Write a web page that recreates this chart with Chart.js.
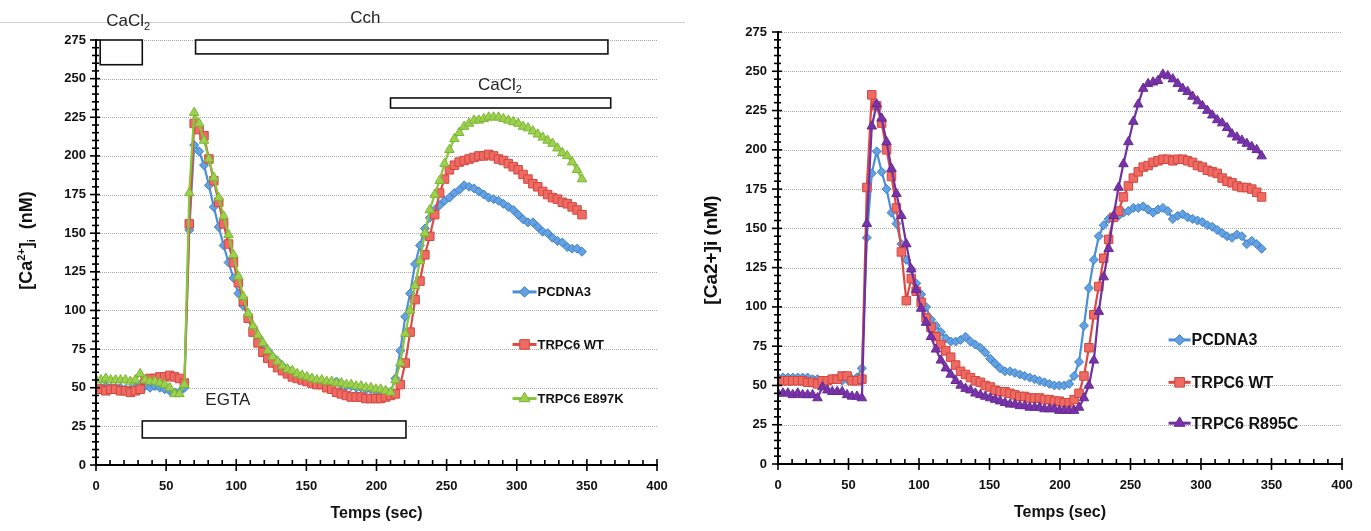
<!DOCTYPE html>
<html>
<head>
<meta charset="utf-8">
<script src="https://cdn.jsdelivr.net/npm/chart.js@4.4.1/dist/chart.umd.min.js"></script>
<style>
  html, body { margin: 0; padding: 0; background: #fff; }
  #wrap { position: relative; width: 1371px; height: 531px; overflow: hidden; background: #fff; }
  .panel { position: absolute; top: 0; height: 531px; }
  #left { left: 0; width: 690px; }
  #right { left: 690px; width: 681px; }
  canvas { display: block; }
</style>
</head>
<body>
<div id="wrap">
  <div class="panel" id="left"><canvas id="chartLeft" width="690" height="531"></canvas></div>
  <div class="panel" id="right"><canvas id="chartRight" width="681" height="531"></canvas></div>
</div>
<script>
// Sampling times (s), shared by both recordings
const timeSec = [
  0, 3.5, 7, 10.5, 14, 17.5, 21, 24.5, 28, 31.5,
  35, 38.5, 42, 45.5, 49, 52.5, 56, 59.5, 63, 66.5,
  70, 73.5, 77, 80.5, 84, 87.5, 91, 94.5, 98, 101.5,
  105, 108.5, 112, 115.5, 119, 122.5, 126, 129.5, 133, 136.5,
  140, 143.5, 147, 150.5, 154, 157.5, 161, 164.5, 168, 171.5,
  175, 178.5, 182, 185.5, 189, 192.5, 196, 199.5, 203, 206.5,
  210, 213.5, 217, 220.5, 224, 227.5, 231, 234.5, 238, 241.5,
  245, 248.5, 252, 255.5, 259, 262.5, 266, 269.5, 273, 276.5,
  280, 283.5, 287, 290.5, 294, 297.5, 301, 304.5, 308, 311.5,
  315, 318.5, 322, 325.5, 329, 332.5, 336, 339.5, 343, 346.5
];

// Left panel: [Ca2+]i (nM)
const leftPcdna3 = [
  50, 50, 51, 50, 50, 50, 49, 49, 50, 52,
  51, 50, 51, 50, 49, 48, 47, 47, 50, 152,
  207, 203, 194, 181, 167, 154, 142, 131, 121, 111,
  103, 96, 89, 83, 78, 74, 70, 67, 64, 62,
  60, 58, 57, 56, 55, 54, 54, 53, 53, 54,
  52, 51, 51, 50, 50, 49, 49, 48, 48, 48,
  47, 56, 74, 96, 111, 130, 142, 153, 160, 165,
  168, 171, 173, 176, 178, 181, 180, 179, 177, 175,
  173, 172, 171, 169, 167, 165, 162, 159, 157, 157,
  154, 151, 150, 147, 145, 144, 141, 140, 140, 138
];
const leftTrpc6Wt = [
  49, 49, 48, 49, 49, 48, 48, 47, 48, 49,
  55, 56, 56, 57, 57, 58, 57, 56, 53, 156,
  221, 217, 213, 198, 184, 170, 156, 143, 131, 118,
  106, 95, 86, 79, 73, 69, 66, 63, 61, 59,
  57, 56, 55, 54, 53, 52, 52, 50, 49, 47,
  46, 45, 44, 44, 44, 43, 43, 43, 43, 44,
  45, 46, 52, 66, 86, 107, 119, 136, 148, 162,
  176, 185, 191, 194, 196, 197, 198, 199, 200, 200,
  201, 200, 198, 197, 195, 193, 191, 188, 185, 182,
  180, 177, 175, 173, 172, 170, 169, 167, 165, 162
];
const leftTrpc6E897k = [
  55, 55, 56, 55, 55, 55, 55, 54, 55, 59,
  55, 54, 54, 53, 52, 50, 46, 46, 52, 176,
  228, 221, 210, 198, 186, 173, 161, 149, 136, 122,
  109, 98, 90, 84, 79, 74, 70, 67, 64, 62,
  61, 59, 58, 57, 56, 55, 55, 54, 54, 53,
  53, 52, 52, 51, 51, 50, 50, 49, 49, 48,
  47, 55, 66, 85, 100, 116, 132, 150, 165, 175,
  184, 195, 204, 211, 215, 219, 221, 223, 223, 224,
  225, 225, 225, 224, 223, 222, 221, 219, 218, 216,
  214, 212, 210, 208, 205, 202, 200, 196, 191, 185
];

// Right panel: [Ca2+]i (nM)
const rightPcdna3 = [
  55, 55, 55, 55, 55, 55, 55, 54, 54, 53,
  53, 54, 54, 53, 54, 54, 55, 61, 144, 185,
  199, 186, 175, 160, 153, 140, 130, 124, 115, 108,
  100, 92, 88, 84, 80, 78, 78, 79, 81, 78,
  76, 74, 71, 67, 64, 61, 59, 59, 58, 57,
  56, 55, 54, 53, 52, 51, 50, 50, 50, 51,
  56, 65, 88, 112, 130, 145, 152, 156, 157, 158,
  160, 161, 163, 163, 164, 162, 160, 162, 163, 161,
  156, 158, 159, 157, 156, 155, 154, 152, 151, 149,
  147, 145, 144, 146, 145, 140, 142, 140, 137
];
const rightTrpc6Wt = [
  53, 53, 53, 53, 53, 53, 52, 52, 51, 53,
  53, 54, 54, 56, 56, 53, 53, 54, 176, 235,
  228, 217, 200, 183, 163, 135, 104, 118, 110, 103,
  93, 87, 81, 76, 72, 68, 63, 59, 57, 55,
  53, 52, 50, 49, 47, 46, 46, 45, 44, 43,
  43, 42, 42, 42, 41, 41, 40, 40, 39, 39,
  41, 45, 56, 74, 95, 113, 131, 143, 157, 161,
  170, 177, 182, 186, 189, 190, 192, 193, 194, 194,
  193, 194, 194, 193, 192, 190, 189, 187, 186, 185,
  182, 180, 179, 177, 176, 176, 175, 173, 170
];
const rightTrpc6R895c = [
  45, 45, 45, 44, 45, 44, 44, 44, 42, 49,
  47, 46, 46, 46, 44, 43, 43, 42, 153, 215,
  229, 220, 205, 188, 172, 158, 140, 124, 111, 99,
  90, 81, 73, 66, 61, 57, 53, 50, 48, 47,
  45, 44, 43, 42, 41, 40, 39, 38, 38, 37,
  37, 36, 36, 36, 35, 35, 35, 34, 34, 34,
  34, 36, 42, 50, 66, 97, 119, 137, 158, 176,
  191, 205, 218, 229, 239, 242, 243, 244, 248, 247,
  245, 242, 239, 237, 234, 231, 228, 225, 222, 219,
  217, 214, 210, 208, 206, 204, 202, 200, 196
];

const yTicks = [0, 25, 50, 75, 100, 125, 150, 175, 200, 225, 250, 275];
const xTicks = [0, 50, 100, 150, 200, 250, 300, 350, 400];

// Treatment periods on the left panel (time in s, concentration units for the box edges)
const barLabels = ['CaCl2', 'Cch', 'CaCl2', 'EGTA'];
const barStart  = [3, 71, 210, 33];
const barEnd    = [33, 365, 367, 221];
const barTop    = [275, 275, 237.5, 28.5];
const barBottom = [259, 266, 231, 17.5];
const barLabelT = [23, 192, 288, 94];
const barLabelV = [287, 289, 246, 42];

const FONT = "'Liberation Sans', Arial, sans-serif";

const SERIES_STYLE = {
  blue:   { line: '#4a8fd8', fill: '#63a2e2', edge: '#3f7fc8', shape: 'rectRot',  r: 4.5 },
  red:    { line: '#dc4a43', fill: '#ee6a62', edge: '#d24840', shape: 'rect',     r: 6 },
  green:  { line: '#88c43c', fill: '#9dd04c', edge: '#7bb634', shape: 'triangle', r: 5.5 },
  purple: { line: '#7030a0', fill: '#7833aa', edge: '#662a94', shape: 'triangle', r: 5.5 }
};

function series(label, values, style, order) {
  const s = SERIES_STYLE[style];
  return {
    label,
    data: values.map((v, i) => ({ x: timeSec[i], y: v })),
    borderColor: s.line,
    backgroundColor: s.fill,
    borderWidth: 2.2,
    pointStyle: s.shape,
    pointRadius: s.r,
    pointBackgroundColor: s.fill,
    pointBorderColor: s.edge,
    pointBorderWidth: 1,
    tension: 0,
    fill: false,
    order
  };
}

function strokeLine(ctx, x1, y1, x2, y2) {
  ctx.beginPath(); ctx.moveTo(x1, y1); ctx.lineTo(x2, y2); ctx.stroke();
}

// Text with an optional trailing subscript, centred on (cx, cy)
function subscriptText(ctx, main, sub, cx, cy, size) {
  ctx.font = `${size}px ${FONT}`;
  const w1 = ctx.measureText(main).width;
  ctx.font = `${Math.round(size * 0.62)}px ${FONT}`;
  const w2 = sub ? ctx.measureText(sub).width : 0;
  const x0 = cx - (w1 + w2) / 2;
  ctx.textBaseline = 'middle';
  ctx.textAlign = 'left';
  ctx.font = `${size}px ${FONT}`;
  ctx.fillText(main, x0, cy);
  if (sub) {
    ctx.font = `${Math.round(size * 0.62)}px ${FONT}`;
    ctx.fillText(sub, x0 + w1, cy + size * 0.32);
  }
}

// Rotated y-axis title built from runs: [text, sizeScale, baselineShift]
function rotatedTitle(ctx, runs, cx, cy, size) {
  ctx.save();
  ctx.translate(cx, cy);
  ctx.rotate(-Math.PI / 2);
  ctx.textBaseline = 'middle';
  ctx.textAlign = 'left';
  let total = 0;
  runs.forEach(([t, k]) => { ctx.font = `bold ${Math.round(size * k)}px ${FONT}`; total += ctx.measureText(t).width; });
  let x = -total / 2;
  runs.forEach(([t, k, dy]) => {
    ctx.font = `bold ${Math.round(size * k)}px ${FONT}`;
    ctx.fillText(t, x, dy * size);
    x += ctx.measureText(t).width;
  });
  ctx.restore();
}

const decorPlugin = {
  id: 'decor',
  beforeDatasetsDraw(chart, args, o) {
    const { ctx, chartArea: a, scales: { x, y } } = chart;
    ctx.save();
    // dotted horizontal gridlines
    ctx.strokeStyle = '#a9a9a9';
    ctx.lineWidth = 1;
    ctx.setLineDash([1, 1]);
    y.ticks.forEach(t => {
      if (t.value === 0) return;
      const py = Math.round(y.getPixelForValue(t.value)) + 0.5;
      strokeLine(ctx, a.left, py, a.right, py);
    });
    ctx.setLineDash([]);
    // treatment bars
    if (o.bars) {
      ctx.lineWidth = 1.6;
      ctx.strokeStyle = '#111';
      ctx.fillStyle = '#fff';
      o.bars.start.forEach((s, i) => {
        const x1 = x.getPixelForValue(s), x2 = x.getPixelForValue(o.bars.end[i]);
        const y1 = y.getPixelForValue(o.bars.top[i]), y2 = y.getPixelForValue(o.bars.bottom[i]);
        ctx.fillRect(x1, y1, x2 - x1, y2 - y1);
        ctx.strokeRect(x1, y1, x2 - x1, y2 - y1);
      });
    }
    ctx.restore();
  },
  afterDatasetsDraw(chart, args, o) {
    const { ctx, chartArea: a, scales: { x, y } } = chart;
    ctx.save();
    // axes
    ctx.strokeStyle = '#000';
    ctx.lineWidth = 2;
    strokeLine(ctx, a.left, a.top - 1, a.left, a.bottom + 1);
    strokeLine(ctx, a.left - 1, a.bottom, a.right + 1, a.bottom);
    // tick marks
    ctx.lineWidth = 1.6;
    for (let v = y.min; v <= y.max + 0.001; v += o.minorY) {
      const py = y.getPixelForValue(v);
      const major = Math.abs(v % 25) < 0.001;
      strokeLine(ctx, a.left - (major ? 6 : 4), py, a.left + (major ? 4 : 3), py);
    }
    for (let v = x.min; v <= x.max + 0.001; v += o.minorX) {
      const px = x.getPixelForValue(v);
      const major = Math.abs(v % 50) < 0.001;
      strokeLine(ctx, px, a.bottom - (major ? 6 : 5), px, a.bottom + (major ? 6 : 0));
    }
    // x-axis title
    ctx.fillStyle = '#111';
    ctx.font = `bold ${o.xTitleSize}px ${FONT}`;
    ctx.textAlign = 'center';
    ctx.textBaseline = 'middle';
    ctx.fillText('Temps (sec)', (a.left + a.right) / 2, o.xTitleY);
    // y-axis title
    rotatedTitle(ctx, o.yTitle, o.yTitleX, (a.top + a.bottom) / 2 + o.yTitleDy, o.yTitleSize);
    // bar labels
    if (o.bars) {
      if (o.topRule) {
        ctx.strokeStyle = '#cfcfcf';
        ctx.lineWidth = 1;
        strokeLine(ctx, 0, o.topRule.y + 0.5, o.topRule.w, o.topRule.y + 0.5);
      }
      ctx.fillStyle = '#222';
      o.bars.labels.forEach((lab, i) => {
        const m = lab.match(/^(.*?)(\d*)$/);
        subscriptText(ctx, m[1], m[2], x.getPixelForValue(o.bars.labelT[i]), y.getPixelForValue(o.bars.labelV[i]), o.barFont);
      });
    }
    // legend
    const L = o.legend;
    const lx = x.getPixelForValue(L.t);
    chart.data.datasets.forEach((ds, i) => {
      const py = y.getPixelForValue(L.rows[i]);
      ctx.strokeStyle = ds.borderColor;
      ctx.lineWidth = 3;
      strokeLine(ctx, lx, py, lx + L.len, py);
      ctx.fillStyle = ds.pointBackgroundColor;
      ctx.strokeStyle = ds.pointBorderColor;
      ctx.lineWidth = 1;
      Chart.helpers.drawPoint(ctx, { pointStyle: ds.pointStyle, radius: ds.pointRadius + 0.8, borderWidth: 1, rotation: 0 }, lx + L.len / 2, py);
      ctx.fillStyle = '#111';
      ctx.font = `bold ${L.size}px ${FONT}`;
      ctx.textAlign = 'left';
      ctx.textBaseline = 'middle';
      ctx.fillText(ds.label, lx + L.len + 1, py + 1);
    });
    ctx.restore();
  }
};

function makeChart(id, cfg) {
  const tickFont = { family: FONT, size: 13, weight: 'bold' };
  return new Chart(document.getElementById(id), {
    type: 'line',
    data: { datasets: cfg.datasets },
    options: {
      responsive: false,
      animation: false,
      devicePixelRatio: 1,
      layout: { padding: cfg.padding },
      plugins: { legend: { display: false }, tooltip: { enabled: false }, decor: cfg.decor },
      scales: {
        x: {
          type: 'linear', min: 0, max: 400,
          afterFit: s => { s.height = cfg.xHeight; },
          afterBuildTicks: s => { s.ticks = xTicks.map(v => ({ value: v })); },
          ticks: { padding: cfg.xPad, color: '#111', font: tickFont, maxRotation: 0 },
          grid: { display: false, drawTicks: false },
          border: { display: false }
        },
        y: {
          type: 'linear', min: 0, max: 275,
          afterFit: s => { s.width = cfg.yWidth; },
          afterBuildTicks: s => { s.ticks = yTicks.map(v => ({ value: v })); },
          ticks: { padding: cfg.yPad, color: '#111', font: tickFont },
          grid: { display: false, drawTicks: false },
          border: { display: false }
        }
      }
    },
    plugins: [decorPlugin]
  });
}

makeChart('chartLeft', {
  padding: { left: 0, top: 40, right: 33, bottom: 0 },
  yWidth: 96, xHeight: 66, xPad: 14, yPad: 10,
  datasets: [
    series('PCDNA3', leftPcdna3, 'blue', 3),
    series('TRPC6 WT', leftTrpc6Wt, 'red', 2),
    series('TRPC6 E897K', leftTrpc6E897k, 'green', 1)
  ],
  decor: {
    minorX: 10, minorY: 5,
    xTitleSize: 16, xTitleY: 514,
    yTitle: [['[Ca', 1, 0], ['2+', 0.62, -0.3], [']', 1, 0], ['i', 0.62, 0.3], ['  (nM)', 1, 0]],
    yTitleX: 27, yTitleDy: -12, yTitleSize: 18,
    bars: { labels: barLabels, start: barStart, end: barEnd, top: barTop, bottom: barBottom, labelT: barLabelT, labelV: barLabelV },
    barFont: 17,
    topRule: { y: 22, w: 685 },
    legend: { t: 297, rows: [112, 78, 43], len: 24, size: 13 }
  }
});

makeChart('chartRight', {
  padding: { left: 0, top: 32, right: 29, bottom: 0 },
  yWidth: 88, xHeight: 67, xPad: 14, yPad: 11,
  datasets: [
    series('PCDNA3', rightPcdna3, 'blue', 3),
    series('TRPC6 WT', rightTrpc6Wt, 'red', 2),
    series('TRPC6 R895C', rightTrpc6R895c, 'purple', 1)
  ],
  decor: {
    minorX: 10, minorY: 5,
    xTitleSize: 16, xTitleY: 513,
    yTitle: [['[Ca2+]i (nM)', 1, 0]],
    yTitleX: 22, yTitleDy: 2, yTitleSize: 19,
    legend: { t: 277, rows: [79, 52, 26], len: 22, size: 16 }
  }
});
</script>
</body>
</html>
